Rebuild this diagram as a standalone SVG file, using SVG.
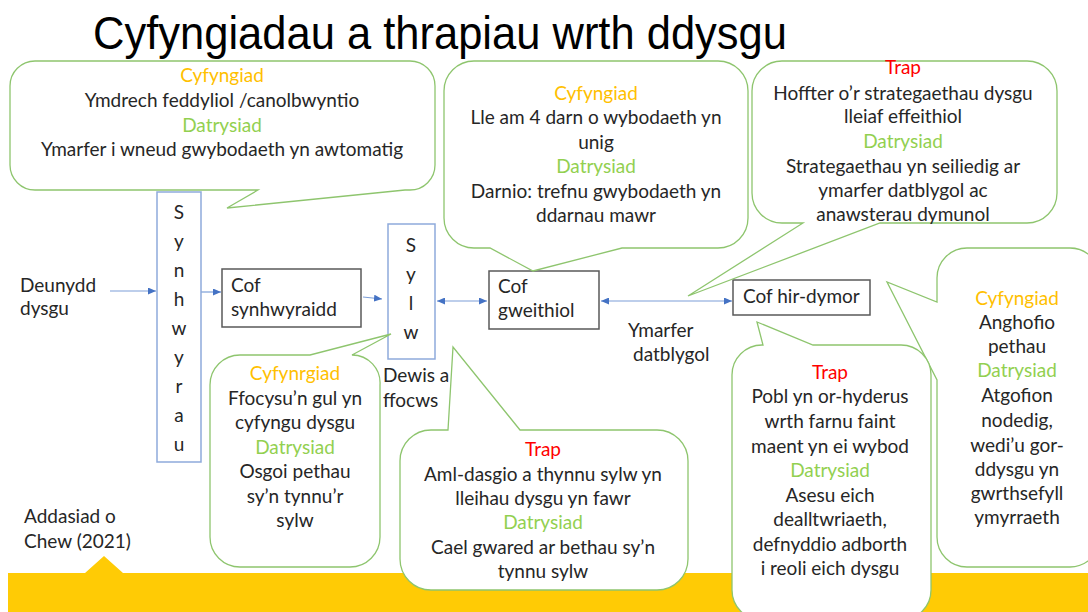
<svg xmlns="http://www.w3.org/2000/svg" width="1088" height="612" viewBox="0 0 1088 612">
<defs>
<style>
.t{font-family:Lato,"Noto Sans",sans-serif;font-size:19px;fill:#262626}
.c{text-anchor:middle}
.o{fill:#FFC000}
.g{fill:#92D050}
.r{fill:#FF0000}
.call{fill:#fff;stroke:#8EC56E;stroke-width:1.3}
.blue{fill:#fff;stroke:#8EAADB;stroke-width:1.5}
.dark{fill:#fff;stroke:#595959;stroke-width:1.5}
.conn{stroke:#7C9ED8;stroke-width:1.2;fill:none}
</style>
<marker id="ah" markerWidth="8" markerHeight="7" refX="8" refY="3.5" orient="auto-start-reverse" markerUnits="userSpaceOnUse">
<path d="M0,0 L8,3.5 L0,7 z" fill="#4472C4"/>
</marker>
</defs>
<rect width="1088" height="612" fill="#fff"/>

<g id="footer-bar">
<path d="M8,573 H85 L104,556 L123,573 H1088 V612 H8 Z" fill="#FFCB05"/>
</g>

<text x="93" y="49" font-family="'Liberation Sans',Arial,sans-serif" font-size="46" fill="#000" textLength="694" lengthAdjust="spacingAndGlyphs">Cyfyngiadau a thrapiau wrth ddysgu</text>

<g id="connectors">
<line class="conn" x1="110" y1="291" x2="156" y2="291" marker-end="url(#ah)"/>
<line class="conn" x1="201" y1="292" x2="221" y2="292" marker-end="url(#ah)"/>
<line class="conn" x1="363" y1="297" x2="382" y2="299" marker-end="url(#ah)"/>
<line class="conn" x1="437" y1="301" x2="487" y2="301" marker-start="url(#ah)" marker-end="url(#ah)"/>
<line class="conn" x1="601" y1="301" x2="732" y2="301" marker-start="url(#ah)" marker-end="url(#ah)"/>
</g>

<g id="deunydd">
<text class="t" x="20" y="292">Deunydd</text>
<text class="t" x="20" y="315">dysgu</text>
</g>

<g id="synhwyrau">
<rect class="blue" x="157" y="192" width="44" height="270"/>
<text class="t c" x="179" y="219">S</text>
<text class="t c" x="179" y="248">y</text>
<text class="t c" x="179" y="277">n</text>
<text class="t c" x="179" y="306">h</text>
<text class="t c" x="179" y="335">w</text>
<text class="t c" x="179" y="364">y</text>
<text class="t c" x="179" y="393">r</text>
<text class="t c" x="179" y="422">a</text>
<text class="t c" x="179" y="451">u</text>
</g>

<g id="cof-synhwyraidd">
<rect class="dark" x="222" y="269" width="139" height="58"/>
<text class="t" x="231" y="292">Cof</text>
<text class="t" x="231" y="316">synhwyraidd</text>
</g>

<g id="sylw">
<rect class="blue" x="388" y="224" width="47" height="135"/>
<text class="t c" x="411" y="252">S</text>
<text class="t c" x="411" y="281">y</text>
<text class="t c" x="411" y="310">l</text>
<text class="t c" x="411" y="339">w</text>
<text class="t" x="383" y="382">Dewis a</text>
<text class="t" x="383" y="407">ffocws</text>
</g>

<g id="cof-gweithiol">
<rect class="dark" x="489" y="271" width="110" height="58"/>
<text class="t" x="498" y="293">Cof</text>
<text class="t" x="498" y="317">gweithiol</text>
</g>

<g id="cof-hir-dymor">
<rect class="dark" x="733" y="280" width="137" height="35"/>
<text class="t" x="743" y="303">Cof hir-dymor</text>
</g>

<g id="ymarfer">
<text class="t" x="628" y="337">Ymarfer</text>
<text class="t" x="633" y="361">datblygol</text>
</g>

<g id="source">
<text class="t" x="24" y="523">Addasiad o</text>
<text class="t" x="24" y="548">Chew (2021)</text>
</g>

<g id="callout-1">
<path class="call" d="M35,61 H410 A25,25 0 0 1 435,86 V165 A25,25 0 0 1 410,190 H405 L227,208 L258,190 H35 A25,25 0 0 1 10,165 V86 A25,25 0 0 1 35,61 Z"/>
<text class="t c o" x="222" y="82">Cyfyngiad</text>
<text class="t c" x="222" y="107">Ymdrech feddyliol /canolbwyntio</text>
<text class="t c g" x="222" y="132">Datrysiad</text>
<text class="t c" x="222" y="156">Ymarfer i wneud gwybodaeth yn awtomatig</text>
</g>

<g id="callout-2">
<path class="call" d="M474,61 H718 A30,30 0 0 1 748,91 V218 A30,30 0 0 1 718,248 H622 L533,271 L490,248 H474 A30,30 0 0 1 444,218 V91 A30,30 0 0 1 474,61 Z"/>
<text class="t c o" x="596" y="100">Cyfyngiad</text>
<text class="t c" x="596" y="124">Lle am 4 darn o wybodaeth yn</text>
<text class="t c" x="596" y="149">unig</text>
<text class="t c g" x="596" y="173">Datrysiad</text>
<text class="t c" x="596" y="198">Darnio: trefnu gwybodaeth yn</text>
<text class="t c" x="596" y="222">ddarnau mawr</text>
</g>

<g id="callout-3">
<path class="call" d="M782,61 H1027 A30,30 0 0 1 1057,91 V193 A30,30 0 0 1 1027,223 H880 L688,296 L803,223 H782 A30,30 0 0 1 752,193 V91 A30,30 0 0 1 782,61 Z"/>
<text class="t c r" x="903" y="74">Trap</text>
<text class="t c" x="903" y="100">Hoffter o’r strategaethau dysgu</text>
<text class="t c" x="903" y="123">lleiaf effeithiol</text>
<text class="t c g" x="903" y="148">Datrysiad</text>
<text class="t c" x="903" y="173">Strategaethau yn seiliedig ar</text>
<text class="t c" x="903" y="197">ymarfer datblygol ac</text>
<text class="t c" x="903" y="221">anawsterau dymunol</text>
</g>

<g id="callout-4">
<path class="call" d="M967,248 H1070 A30,30 0 0 1 1100,278 V537 A30,30 0 0 1 1070,567 H967 A30,30 0 0 1 937,537 V380 L887,282 L937,302 V278 A30,30 0 0 1 967,248 Z"/>
<text class="t c o" x="1017" y="305">Cyfyngiad</text>
<text class="t c" x="1017" y="329">Anghofio</text>
<text class="t c" x="1017" y="353">pethau</text>
<text class="t c g" x="1017" y="377">Datrysiad</text>
<text class="t c" x="1017" y="402">Atgofion</text>
<text class="t c" x="1017" y="427">nodedig,</text>
<text class="t c" x="1017" y="452">wedi’u gor-</text>
<text class="t c" x="1017" y="476">ddysgu yn</text>
<text class="t c" x="1017" y="500">gwrthsefyll</text>
<text class="t c" x="1017" y="524">ymyrraeth</text>
</g>

<g id="callout-5">
<path class="call" d="M762,345 H763 L757,322 L813,345 H901 A30,30 0 0 1 931,375 V590 A30,30 0 0 1 901,620 H762 A30,30 0 0 1 732,590 V375 A30,30 0 0 1 762,345 Z"/>
<text class="t c r" x="830" y="379">Trap</text>
<text class="t c" x="830" y="403">Pobl yn or-hyderus</text>
<text class="t c" x="830" y="428">wrth farnu faint</text>
<text class="t c" x="830" y="453">maent yn ei wybod</text>
<text class="t c g" x="830" y="477">Datrysiad</text>
<text class="t c" x="830" y="502">Asesu eich</text>
<text class="t c" x="830" y="526">dealltwriaeth,</text>
<text class="t c" x="830" y="551">defnyddio adborth</text>
<text class="t c" x="830" y="575">i reoli eich dysgu</text>
</g>

<g id="callout-6">
<path class="call" d="M431,430 H448 L453,347 L520,430 H657 A31,31 0 0 1 688,461 V559 A31,31 0 0 1 657,590 H431 A31,31 0 0 1 400,559 V461 A31,31 0 0 1 431,430 Z"/>
<text class="t c r" x="543" y="456">Trap</text>
<text class="t c" x="543" y="481">Aml-dasgio a thynnu sylw yn</text>
<text class="t c" x="543" y="505">lleihau dysgu yn fawr</text>
<text class="t c g" x="543" y="529">Datrysiad</text>
<text class="t c" x="543" y="554">Cael gwared ar bethau sy’n</text>
<text class="t c" x="543" y="578">tynnu sylw</text>
</g>

<g id="callout-7">
<path class="call" d="M240,355 H310 L391,334 L352,355 A28,28 0 0 1 380,385 V537 A30,30 0 0 1 350,567 H240 A30,30 0 0 1 210,537 V385 A30,30 0 0 1 240,355 Z"/>
<text class="t c o" x="295" y="380">Cyfynrgiad</text>
<text class="t c" x="295" y="405">Ffocysu’n gul yn</text>
<text class="t c" x="295" y="429">cyfyngu dysgu</text>
<text class="t c g" x="295" y="454">Datrysiad</text>
<text class="t c" x="295" y="478">Osgoi pethau</text>
<text class="t c" x="295" y="503">sy’n tynnu’r</text>
<text class="t c" x="295" y="527">sylw</text>
</g>
</svg>
